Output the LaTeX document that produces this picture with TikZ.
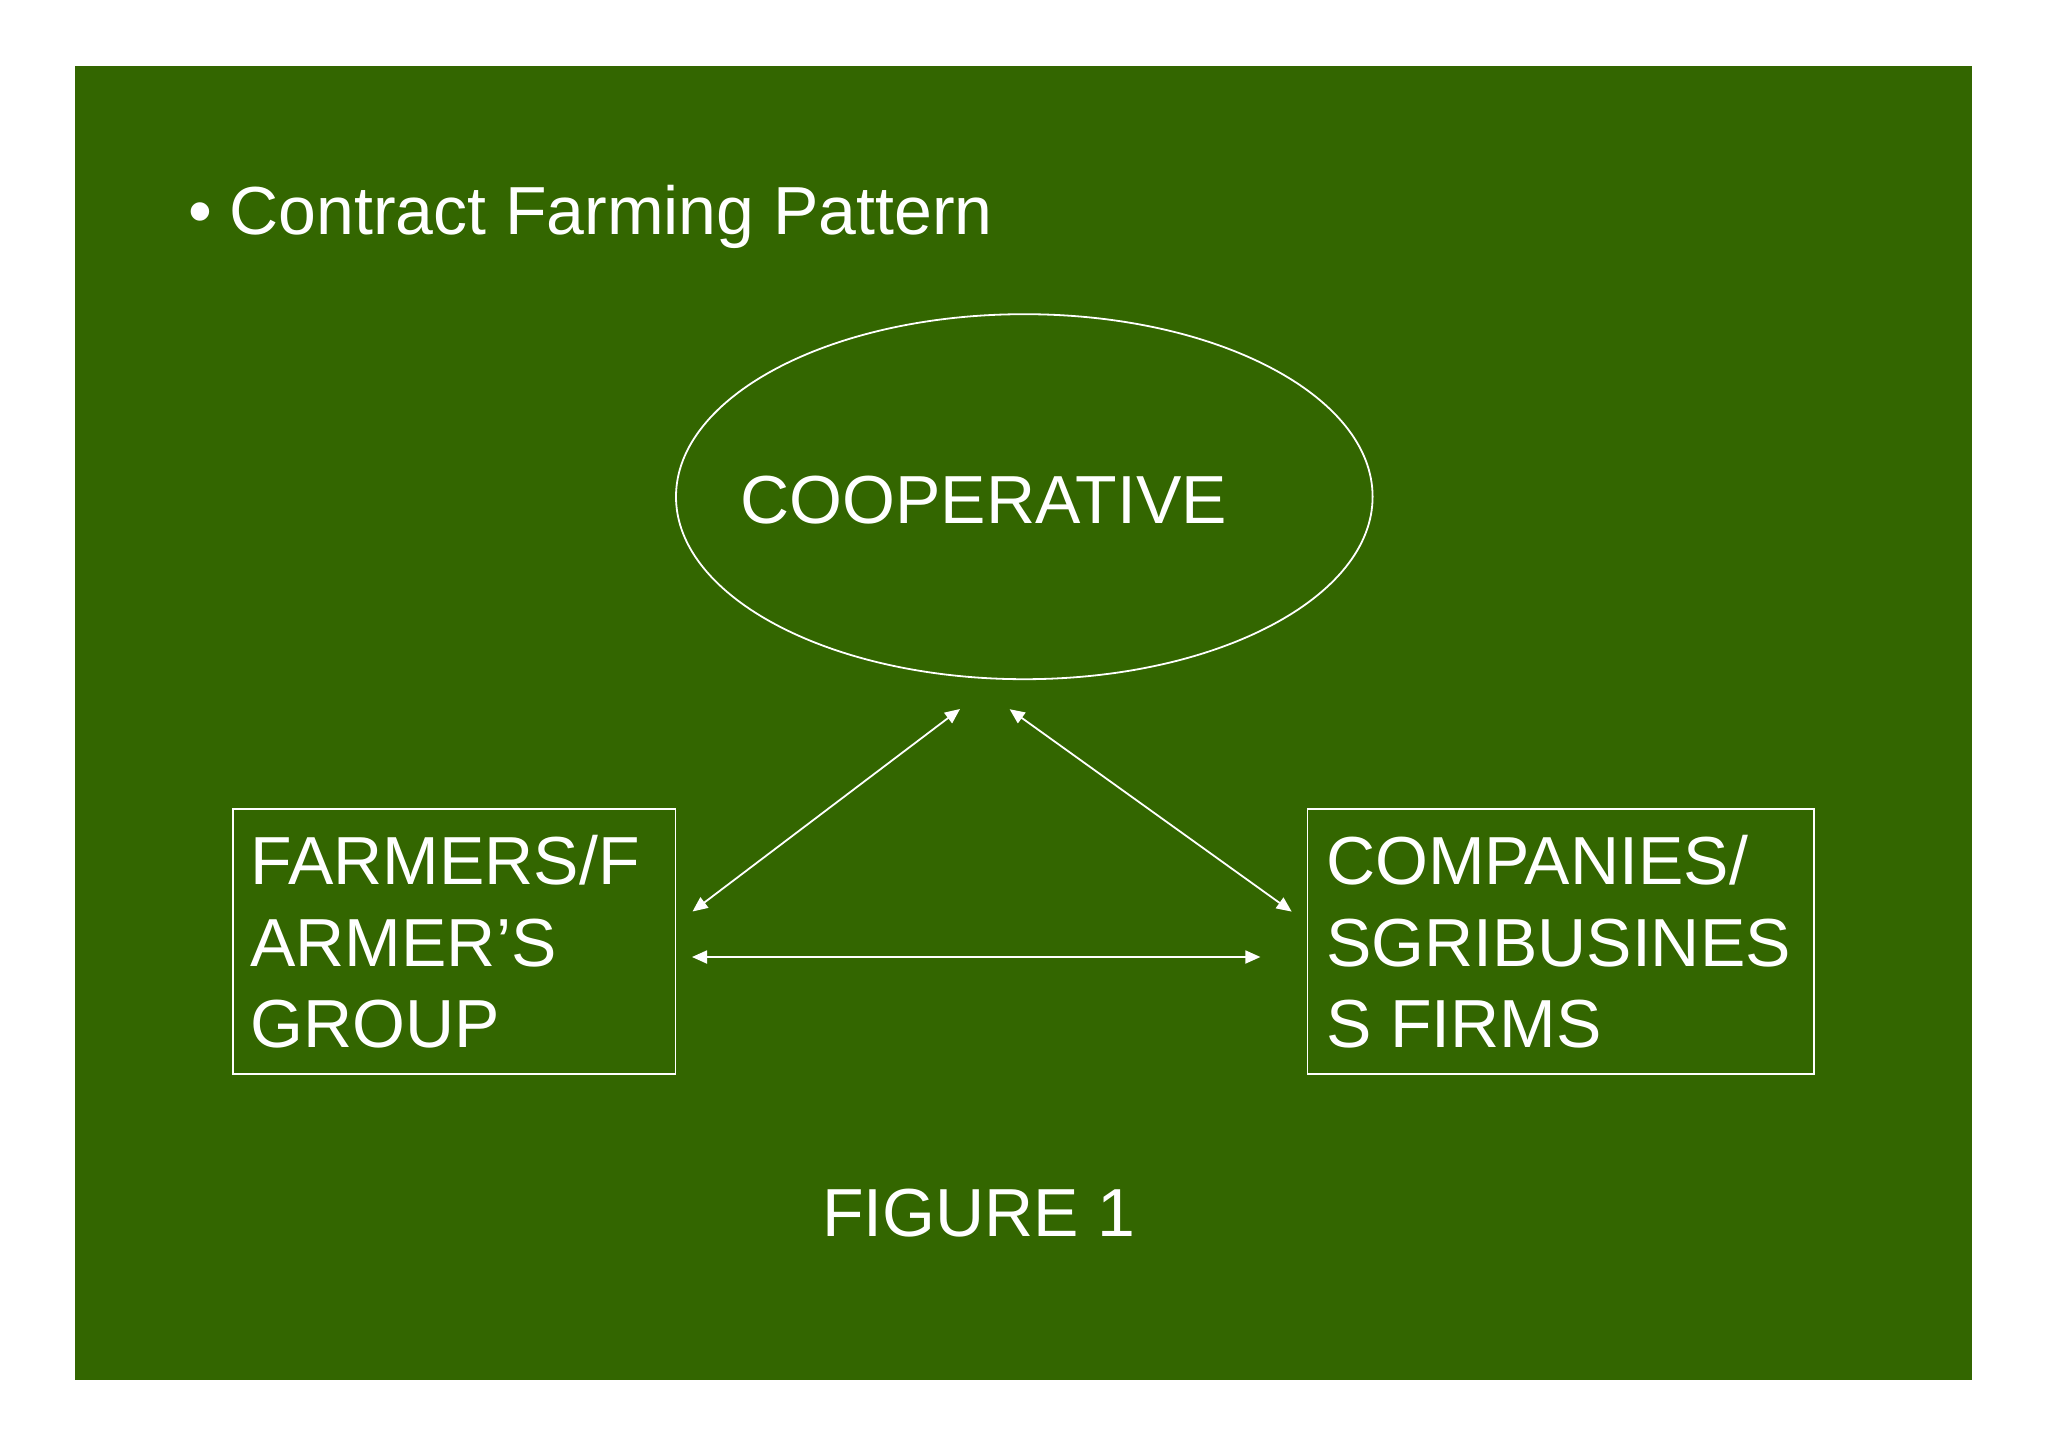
\documentclass[tikz,border=0pt]{standalone}
\usepackage{fontspec}
\setmainfont{Liberation Sans}
\usetikzlibrary{arrows.meta,shapes.geometric}
\definecolor{slidegreen}{HTML}{336600}
\tikzset{
  slidetext/.style={text=white, inner sep=0pt, outer sep=0pt, font=\fontsize{68}{81.5}\selectfont},
  frame/.style={draw=white, line width=1.8pt, inner sep=0pt, outer sep=0pt},
  link/.style={draw=white, line width=1.8pt, {Triangle[length=15pt,width=13pt]}-{Triangle[length=15pt,width=13pt]}}
}
\begin{document}
\begin{tikzpicture}[x=1pt,y=-1pt]
\useasboundingbox (0,0) rectangle (2048,1447);
\fill[white] (0,0) rectangle (2048,1447);
\fill[slidegreen] (75,66) rectangle (1972,1380);

% title
\node[slidetext, anchor=base] (bullet) at (200,235) {•};
\node[slidetext, anchor=base west] (title) at (229.4,235) {Contract Farming Pattern};

% cooperative ellipse
\node[frame, ellipse, minimum width=696.6, minimum height=365] (coop) at (1024.3,496.7) {};
\node[slidetext, anchor=base west] (cooptext) at (740.7,523.5) {COOPERATIVE};

% boxes (base anchor of a multi-line node = baseline of its last line)
\node[frame, rectangle, minimum width=442.8, minimum height=265] (farm) at (454,941.5) {};
\node[slidetext, anchor=base west, align=left] (farmtext) at (250.5,1047.5) {FARMERS/F\\ARMER’S\\GROUP};

\node[frame, rectangle, minimum width=506.8, minimum height=265] (firm) at (1560.8,941.5) {};
\node[slidetext, anchor=base west, align=left] (firmtext) at (1326,1047.5) {COMPANIES/\\SGRIBUSINES\\S FIRMS};

% caption
\node[slidetext, anchor=base west] (caption) at (822,1236) {FIGURE 1};

% connector end points
\coordinate (farmup) at (692.5,911.5);
\coordinate (coopleft) at (960,709);
\coordinate (coopright) at (1009.6,709.2);
\coordinate (firmup) at (1291.7,911.6);
\coordinate (farmside) at (692,957);
\coordinate (firmside) at (1260.4,957);

\draw[link] (farmup) -- (coopleft);
\draw[link] (coopright) -- (firmup);
\draw[link] (farmside) -- (firmside);
\end{tikzpicture}
\end{document}
